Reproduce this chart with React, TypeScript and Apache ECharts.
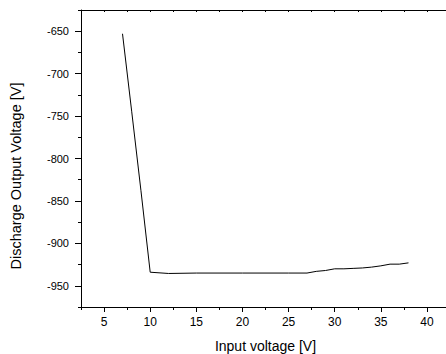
import React, { useEffect, useRef } from "react";
import * as echarts from "echarts";

const inputVoltage = [7, 8, 9, 10, 12, 15, 20, 25, 27, 28, 29, 30, 31, 32, 33, 34, 35, 36, 37, 38];
const outputVoltage = [-653, -745, -838, -934, -935.5, -935, -935, -935, -935, -933, -932, -930, -930, -929.5, -929, -928, -926.5, -924.5, -924.5, -923];

const xMajorTicks = [5, 10, 15, 20, 25, 30, 35, 40];
const xMinorTicks = [2.5, 7.5, 12.5, 17.5, 22.5, 27.5, 32.5, 37.5, 42.5];
const xTopTicks = [2.5, 5, 7.5, 10, 12.5, 15, 17.5, 20, 22.5, 25, 27.5, 30, 32.5, 35, 37.5, 40, 42.5];
const yMajorTicks = [-950, -900, -850, -800, -750, -700, -650];
const yMinorTicks = [-975, -925, -875, -825, -775, -725, -675, -625];

const FONT = "'Liberation Sans', Arial, sans-serif";

export default function App() {
  const ref = useRef<HTMLDivElement>(null);
  useEffect(() => {
    if (!ref.current) return;
    const chart = echarts.init(ref.current, null, { renderer: "svg" });
    const axisLine = { show: true, lineStyle: { color: "#000", width: 1 } };
    chart.setOption({
      animation: false,
      backgroundColor: "#fff",
      textStyle: { fontFamily: FONT },
      grid: { left: 81, top: 10, bottom: 47, right: -4, containLabel: false, outerBoundsMode: "none" },
      xAxis: [
        {
          type: "value",
          position: "bottom",
          min: 2.5,
          max: 42.5,
          axisLine,
          splitLine: { show: false },
          axisTick: { show: true, customValues: xMajorTicks, length: 5, lineStyle: { color: "#000" } },
          axisLabel: { customValues: xMajorTicks, margin: 9, color: "#000", fontSize: 12, fontFamily: FONT },
          name: "Input voltage [V]",
          nameLocation: "middle",
          nameGap: 32,
          nameTextStyle: { color: "#000", fontSize: 14, fontFamily: FONT },
        },
        {
          type: "value",
          position: "bottom",
          min: 2.5,
          max: 42.5,
          axisLine: { show: false },
          splitLine: { show: false },
          axisTick: { show: true, customValues: xMinorTicks, length: 3, lineStyle: { color: "#000" } },
          axisLabel: { show: false },
        },
        {
          type: "value",
          position: "top",
          min: 2.5,
          max: 42.5,
          axisLine,
          splitLine: { show: false },
          axisTick: { show: true, inside: true, customValues: xTopTicks, length: 2, lineStyle: { color: "#000" } },
          axisLabel: { show: false },
        },
      ],
      yAxis: [
        {
          type: "value",
          position: "left",
          min: -975,
          max: -625,
          axisLine,
          splitLine: { show: false },
          axisTick: { show: true, customValues: yMajorTicks, length: 6, lineStyle: { color: "#000" } },
          axisLabel: { customValues: yMajorTicks, margin: 12, color: "#000", fontSize: 11, fontFamily: FONT },
        },
        {
          type: "value",
          position: "left",
          min: -975,
          max: -625,
          axisLine: { show: false },
          splitLine: { show: false },
          axisTick: { show: true, customValues: yMinorTicks, length: 3, lineStyle: { color: "#000" } },
          axisLabel: { show: false },
        },
      ],
      graphic: [
        {
          type: "text",
          x: 15.5,
          y: 176,
          rotation: Math.PI / 2,
          style: {
            text: "Discharge Output Voltage [V]",
            fill: "#000",
            font: `14.5px ${FONT}`,
            align: "center",
            verticalAlign: "middle",
          },
        },
      ],
      series: [
        {
          type: "line",
          xAxisIndex: 0,
          yAxisIndex: 0,
          data: inputVoltage.map((x, i) => [x, outputVoltage[i]]),
          showSymbol: false,
          lineStyle: { color: "#000", width: 1 },
        },
      ],
    });
    return () => chart.dispose();
  }, []);
  return <div ref={ref} style={{ position: "absolute", left: 0, top: 0, width: 446, height: 354 }} />;
}
